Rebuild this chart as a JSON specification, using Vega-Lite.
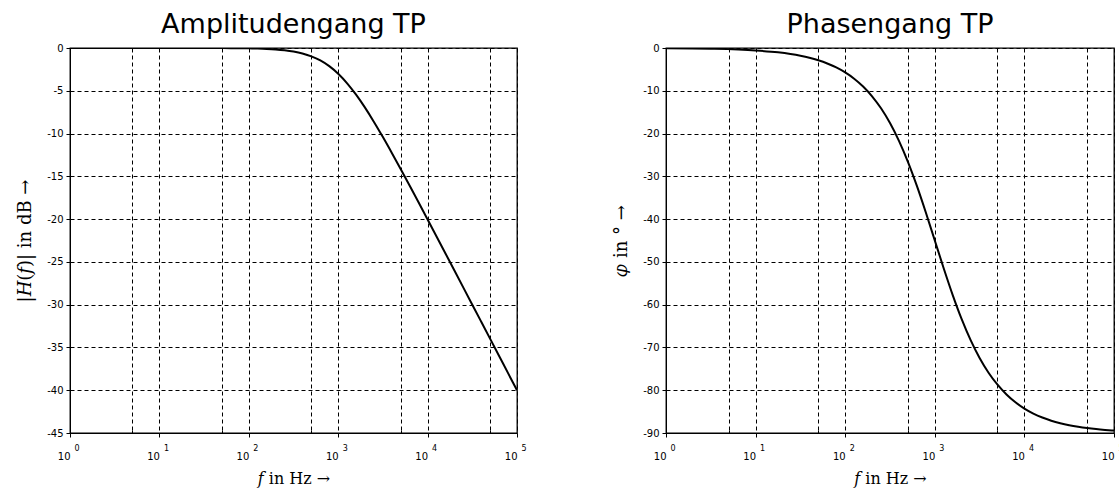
{
  "$schema": "https://vega.github.io/schema/vega-lite/v6.json",
  "padding": {"left": 16, "top": 10, "right": 0, "bottom": 4},
  "background": "white",
  "config": {
    "view": {"stroke": "black", "strokeWidth": 1.3},
    "font": "DejaVu Sans",
    "axis": {
      "domainColor": "black",
      "tickColor": "black",
      "labelColor": "black",
      "labelFont": "DejaVu Sans",
      "labelFontSize": 10,
      "titleFont": "DejaVu Serif",
      "titleFontWeight": "normal",
      "titleFontSize": 18,
      "titleColor": "black",
      "gridColor": "black",
      "gridOpacity": 1,
      "gridDash": [4, 3],
      "gridWidth": 1,
      "tickSize": 4,
      "labelPadding": 3
    },
    "title": {"font": "DejaVu Sans", "fontSize": 27, "fontWeight": "normal", "color": "black", "offset": 4}
  },
  "data": {
    "values": [
      {"f": 1, "amp": 0, "phase": -0.0573},
      {"f": 3.1623, "amp": 0, "phase": -0.1812},
      {"f": 10, "amp": -0.0004, "phase": -0.573},
      {"f": 17.783, "amp": -0.0014, "phase": -1.019},
      {"f": 31.623, "amp": -0.0043, "phase": -1.811},
      {"f": 39.811, "amp": -0.0069, "phase": -2.28},
      {"f": 50.119, "amp": -0.0109, "phase": -2.869},
      {"f": 63.096, "amp": -0.0173, "phase": -3.611},
      {"f": 79.433, "amp": -0.0273, "phase": -4.541},
      {"f": 100, "amp": -0.0432, "phase": -5.711},
      {"f": 125.89, "amp": -0.0683, "phase": -7.175},
      {"f": 158.49, "amp": -0.1077, "phase": -9.006},
      {"f": 199.53, "amp": -0.1695, "phase": -11.284},
      {"f": 251.19, "amp": -0.2657, "phase": -14.1},
      {"f": 316.23, "amp": -0.4139, "phase": -17.548},
      {"f": 398.11, "amp": -0.6389, "phase": -21.708},
      {"f": 501.19, "amp": -0.9732, "phase": -26.62},
      {"f": 630.96, "amp": -1.4554, "phase": -32.25},
      {"f": 794.33, "amp": -2.1244, "phase": -38.461},
      {"f": 1000, "amp": -3.0103, "phase": -45},
      {"f": 1258.9, "amp": -4.1244, "phase": -51.539},
      {"f": 1584.9, "amp": -5.4554, "phase": -57.75},
      {"f": 1995.3, "amp": -6.9732, "phase": -63.38},
      {"f": 2511.9, "amp": -8.6389, "phase": -68.292},
      {"f": 3162.3, "amp": -10.4139, "phase": -72.452},
      {"f": 3981.1, "amp": -12.2657, "phase": -75.9},
      {"f": 5011.9, "amp": -14.1695, "phase": -78.716},
      {"f": 6309.6, "amp": -16.1077, "phase": -80.994},
      {"f": 7943.3, "amp": -18.0683, "phase": -82.825},
      {"f": 10000, "amp": -20.0432, "phase": -84.289},
      {"f": 12589, "amp": -22.0273, "phase": -85.459},
      {"f": 15849, "amp": -24.0173, "phase": -86.389},
      {"f": 19953, "amp": -26.0109, "phase": -87.131},
      {"f": 25119, "amp": -28.0069, "phase": -87.72},
      {"f": 31623, "amp": -30.0043, "phase": -88.189},
      {"f": 39811, "amp": -32.0027, "phase": -88.557},
      {"f": 50119, "amp": -34.0017, "phase": -88.854},
      {"f": 63096, "amp": -36.0011, "phase": -89.089},
      {"f": 79433, "amp": -38.0007, "phase": -89.275},
      {"f": 100000, "amp": -40.0004, "phase": -89.427}
    ]
  },
  "spacing": 85,
  "hconcat": [
    {
      "title": "Amplitudengang TP",
      "width": 447,
      "height": 385,
      "resolve": {"axis": {"x": "independent"}},
      "layer": [
        {
          "mark": {"type": "line", "color": "black", "strokeWidth": 2, "interpolate": "monotone", "clip": true},
          "encoding": {
            "x": {
              "field": "f", "type": "quantitative",
              "scale": {"type": "log", "domain": [1, 100000], "nice": false},
              "axis": {
                "orient": "bottom",
                "title": "𝑓 in Hz →",
                "titleFontSize": 16,
                "titlePadding": 9,
                "values": [1, 5, 10, 50, 100, 500, 1000, 5000, 10000, 50000, 100000],
                "labelExpr": "indexof([1,10,100,1000,10000,100000], datum.value) >= 0 ? '10' : ''",
                "labelAlign": "right",
                "labelBaseline": "top",
                "labelFlush": false,
                "labelOffset": 0,
                "labelPadding": 14,
                "tickSize": {"condition": {"test": "indexof([1,10,100,1000,10000,100000], datum.value) >= 0", "value": 4}, "value": -3}
              }
            },
            "y": {
              "field": "amp", "type": "quantitative",
              "scale": {"domain": [-45, 0], "nice": false, "zero": false},
              "axis": {
                "title": "|𝐻(𝑓)| in dB →",
                "values": [0, -5, -10, -15, -20, -25, -30, -35, -40, -45],
                "labelExpr": "datum.value + ''",
                "titlePadding": 12
              }
            }
          }
        },
        {
          "mark": {"type": "line", "strokeOpacity": 0, "clip": true},
          "encoding": {
            "x": {
              "field": "f", "type": "quantitative",
              "scale": {"type": "log", "domain": [1, 100000], "nice": false},
              "axis": {
                "orient": "bottom",
                "title": null,
                "domain": false,
                "ticks": false,
                "grid": false,
                "values": [1, 10, 100, 1000, 10000, 100000],
                "labelExpr": "indexof([1,10,100,1000,10000,100000], datum.value) + ''",
                "labelFontSize": 8,
                "labelAlign": "left",
                "labelBaseline": "top",
                "labelFlush": false,
                "labelOffset": 4,
                "labelPadding": 11
              }
            },
            "y": {"field": "amp", "type": "quantitative"}
          }
        }
      ]
    },
    {
      "title": "Phasengang TP",
      "width": 448,
      "height": 385,
      "resolve": {"axis": {"x": "independent"}},
      "layer": [
        {
          "mark": {"type": "line", "color": "black", "strokeWidth": 2, "interpolate": "monotone", "clip": true},
          "encoding": {
            "x": {
              "field": "f", "type": "quantitative",
              "scale": {"type": "log", "domain": [1, 100000], "nice": false},
              "axis": {
                "orient": "bottom",
                "title": "𝑓 in Hz →",
                "titleFontSize": 16,
                "titlePadding": 9,
                "values": [1, 5, 10, 50, 100, 500, 1000, 5000, 10000, 50000, 100000],
                "labelExpr": "indexof([1,10,100,1000,10000,100000], datum.value) >= 0 ? '10' : ''",
                "labelAlign": "right",
                "labelBaseline": "top",
                "labelFlush": false,
                "labelOffset": 0,
                "labelPadding": 14,
                "tickSize": {"condition": {"test": "indexof([1,10,100,1000,10000,100000], datum.value) >= 0", "value": 4}, "value": -3}
              }
            },
            "y": {
              "field": "phase", "type": "quantitative",
              "scale": {"domain": [-90, 0], "nice": false, "zero": false},
              "axis": {
                "title": "𝜑 in ° →",
                "values": [0, -5, -10, -15, -20, -25, -30, -35, -40, -45, -50, -55, -60, -65, -70, -75, -80, -85, -90],
                "labelExpr": "datum.value % 10 == 0 ? datum.value + '' : ''",
                "gridOpacity": {"condition": {"test": "datum.value % 10 != 0", "value": 0}, "value": 1},
                "tickSize": {"condition": {"test": "datum.value % 10 != 0", "value": -3}, "value": 4},
                "titlePadding": 12
              }
            }
          }
        },
        {
          "mark": {"type": "line", "strokeOpacity": 0, "clip": true},
          "encoding": {
            "x": {
              "field": "f", "type": "quantitative",
              "scale": {"type": "log", "domain": [1, 100000], "nice": false},
              "axis": {
                "orient": "bottom",
                "title": null,
                "domain": false,
                "ticks": false,
                "grid": false,
                "values": [1, 10, 100, 1000, 10000, 100000],
                "labelExpr": "indexof([1,10,100,1000,10000,100000], datum.value) + ''",
                "labelFontSize": 8,
                "labelAlign": "left",
                "labelBaseline": "top",
                "labelFlush": false,
                "labelOffset": 4,
                "labelPadding": 11
              }
            },
            "y": {"field": "phase", "type": "quantitative"}
          }
        }
      ]
    }
  ]
}
